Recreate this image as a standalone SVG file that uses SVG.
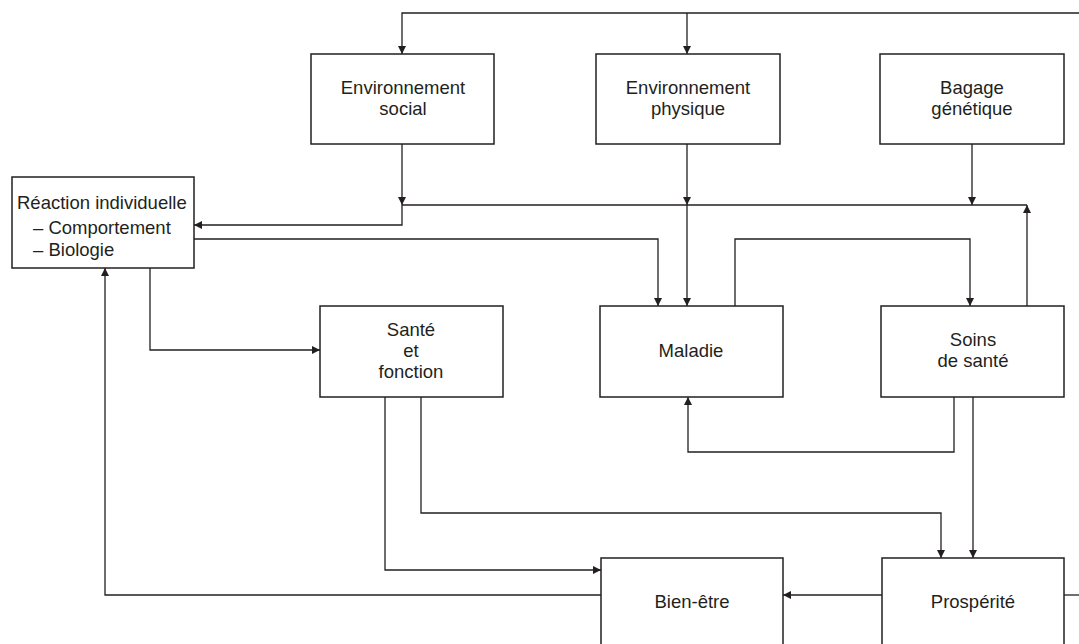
<svg xmlns="http://www.w3.org/2000/svg" width="1079" height="644" viewBox="0 0 1079 644">
  <defs>
    <marker id="arrow" viewBox="0 0 10 10" refX="10" refY="5" markerWidth="9" markerHeight="8" markerUnits="userSpaceOnUse" orient="auto">
      <path d="M0,0 L10,5 L0,10 z" fill="#231f20"/>
    </marker>
    <style>
      rect.box { fill: #ffffff; stroke: #231f20; stroke-width: 1.5; }
      text { font-family: "Liberation Sans", Arial, sans-serif; font-size: 18.5px; fill: #231f20; }
      text.c { text-anchor: middle; }
      #connectors path { fill: none; stroke: #231f20; stroke-width: 1.3; }
      #connectors path.a { marker-end: url(#arrow); }
    </style>
  </defs>
  <rect width="1079" height="644" fill="#ffffff"/>

  <g id="connectors">
    <!-- feedback from the right edge to the environments -->
    <path d="M1079,13 H402 V54" class="a"/>
    <path d="M687,13 V54" class="a"/>
    <!-- environments and genetics into the shared bus -->
    <path d="M402,144 V205" class="a"/>
    <path d="M402,205 V225 H194" class="a"/>
    <path d="M687,144 V205" class="a"/>
    <path d="M687,205 V306" class="a"/>
    <path d="M972,144 V205" class="a"/>
    <path d="M402,205 H1027"/>
    <path d="M1027,306 V205" class="a"/>
    <!-- individual response to disease -->
    <path d="M194,239 H658 V306" class="a"/>
    <!-- disease and health care loop -->
    <path d="M735,306 V239 H970 V306" class="a"/>
    <path d="M954,397 V452 H688 V397" class="a"/>
    <path d="M973,397 V558" class="a"/>
    <!-- individual response to health and function -->
    <path d="M150,268 V350 H320" class="a"/>
    <!-- health and function outputs -->
    <path d="M385,397 V570 H601" class="a"/>
    <path d="M421,397 V513 H941 V558" class="a"/>
    <!-- well-being back to individual response -->
    <path d="M601,595 H105 V268" class="a"/>
    <path d="M882,595 H783" class="a"/>
    <path d="M1064,595 H1079"/>
  </g>

  <g id="env-social">
    <rect class="box" x="311" y="54" width="183" height="90"/>
    <text class="c" x="403" y="94">Environnement</text>
    <text class="c" x="403" y="115">social</text>
  </g>
  <g id="env-physique">
    <rect class="box" x="596" y="54" width="184" height="90"/>
    <text class="c" x="688" y="94">Environnement</text>
    <text class="c" x="688" y="115">physique</text>
  </g>
  <g id="bagage">
    <rect class="box" x="880" y="54" width="184" height="90"/>
    <text class="c" x="972" y="94">Bagage</text>
    <text class="c" x="972" y="115">génétique</text>
  </g>
  <g id="reaction">
    <rect class="box" x="12" y="177" width="182" height="91"/>
    <text x="17" y="209">Réaction individuelle</text>
    <text x="33" y="234">– Comportement</text>
    <text x="33" y="256">– Biologie</text>
  </g>
  <g id="sante">
    <rect class="box" x="320" y="306" width="183" height="91"/>
    <text class="c" x="411" y="336">Santé</text>
    <text class="c" x="411" y="357">et</text>
    <text class="c" x="411" y="378">fonction</text>
  </g>
  <g id="maladie">
    <rect class="box" x="600" y="306" width="183" height="91"/>
    <text class="c" x="691" y="357">Maladie</text>
  </g>
  <g id="soins">
    <rect class="box" x="881" y="306" width="183" height="91"/>
    <text class="c" x="973" y="346">Soins</text>
    <text class="c" x="973" y="367">de santé</text>
  </g>
  <g id="bien-etre">
    <rect class="box" x="601" y="558" width="182" height="100"/>
    <text class="c" x="692" y="608">Bien-être</text>
  </g>
  <g id="prosperite">
    <rect class="box" x="882" y="558" width="182" height="100"/>
    <text class="c" x="973" y="608">Prospérité</text>
  </g>
</svg>
